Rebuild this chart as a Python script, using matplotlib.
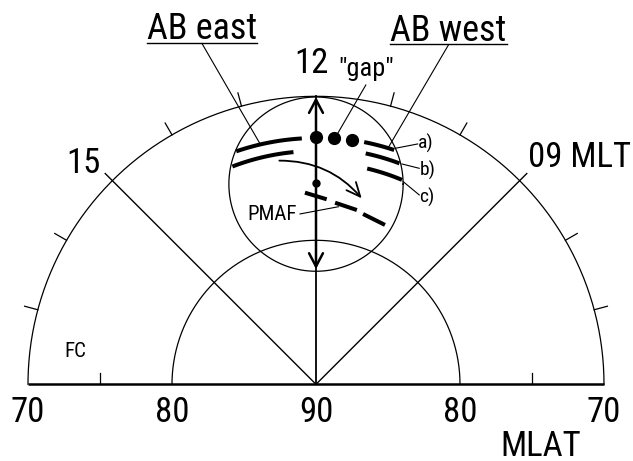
import numpy as np
import matplotlib
matplotlib.use('Agg')
import matplotlib.pyplot as plt
from matplotlib import font_manager as fm
from matplotlib.patches import FancyArrowPatch

# narrow sans if there is one, the original uses a condensed face
names = {f.name for f in fm.fontManager.ttflist}
FONT = dict(family='DejaVu Sans', stretch='condensed')
for cand in ['Roboto Condensed', 'Archivo Narrow', 'PT Sans Narrow',
             'Liberation Sans Narrow', 'Asap Condensed']:
    if cand in names:
        FONT = dict(family=cand)
        break

# --- data (MLT in hours, MLAT in degrees) ---
rings = [70, 80]                       # circles of constant MLAT
base_labels = ['70', '80', '90', '80', '70']
base_mlat = [70, 80, 90, 80, 70]
base_side = [-1, -1, 0, 1, 1]
minor_mlat = 75                        # small ticks on the base line
hour_lines = [15, 9]                   # the two drawn meridians
hour_ticks = [7, 8, 10, 11, 13, 14, 16, 17]

fov_mlat = 76.1                        # centre of the small circle
fov_radius = 6.05

gap_mlt = [12.0, 11.72, 11.44]
gap_mlat = [72.85, 72.85, 72.85]

east_arcs = [(12.22, 13.26, 72.9), (12.37, 13.40, 73.8)]
west_arcs = [(11.25, 10.77, 72.85), (11.19, 10.62, 73.6), (11.11, 10.48, 74.6)]

pmaf_start = [(12.22, 76.67), (11.60, 77.32), (10.97, 77.73)]
pmaf_end = [(11.78, 77.13), (11.12, 77.57), (10.44, 77.94)]

flow_start = (12.62, 74.26)
flow_end = (11.08, 76.70)
cusp_dot = (12.0, 76.0)
arrow_mlat = (82.0, 70.05)


def xy(mlt, mlat):
    r = 90 - np.asarray(mlat, float)
    phi = np.deg2rad((np.asarray(mlt, float) - 12) * 15)
    return -r * np.sin(phi), r * np.cos(phi)


S = 14.4       # pixels per degree
CX, CY = 316, 384.3
fig = plt.figure(figsize=(6.33, 4.61), dpi=100)
ax = fig.add_axes([0, 0, 1, 1])
ax.set_xlim(-CX / S, (633 - CX) / S)
ax.set_ylim(-(461 - CY) / S, CY / S)
ax.axis('off')

t = np.linspace(0, np.pi, 300)
for m in rings:
    r = 90 - m
    ax.plot(r * np.cos(t), r * np.sin(t), color='k', lw=0.9)

# base line with the 75 deg ticks
ax.plot([-20, 20], [0, 0], color='k', lw=1.8, solid_capstyle='butt')
for s in (-1, 1):
    ax.plot([s * (90 - minor_mlat)] * 2, [0, 0.76], color='k', lw=0.9)

for h in hour_ticks:
    ax.plot(*xy([h, h], [70, 69.05]), color='k', lw=0.9)
for h in hour_lines:
    ax.plot(*xy([h, h], [90, 69.3]), color='k', lw=1.0)
ax.plot(*xy([12, 12], [90, 70]), color='k', lw=1.3)

# field of view circle
tt = np.linspace(0, 2 * np.pi, 300)
ax.plot(fov_radius * np.cos(tt), 90 - fov_mlat + fov_radius * np.sin(tt), color='k', lw=0.9)

ax.add_patch(FancyArrowPatch(xy(12, arrow_mlat[0]), xy(12, arrow_mlat[1]),
                             arrowstyle='<->,head_length=0.95,head_width=0.5',
                             mutation_scale=10, lw=1.8, color='k',
                             shrinkA=0, shrinkB=0))

for m0, m1, lat in east_arcs + west_arcs:
    mm = np.linspace(m0, m1, 40)
    ax.plot(*xy(mm, lat), color='k', lw=2.9, solid_capstyle='butt')

for (m0, l0), (m1, l1) in zip(pmaf_start, pmaf_end):
    ax.plot(*xy([m0, m1], [l0, l1]), color='k', lw=2.9, solid_capstyle='butt')

ax.add_patch(FancyArrowPatch(xy(*flow_start), xy(*flow_end),
                             connectionstyle='arc3,rad=-0.23',
                             arrowstyle='->,head_length=1.0,head_width=0.45',
                             mutation_scale=10, lw=1.3, color='k',
                             shrinkA=0, shrinkB=0))

ax.plot(*xy(gap_mlt, gap_mlat), 'o', color='k', ms=8.5, zorder=5)
ax.plot(*xy(*cusp_dot), 'o', color='k', ms=5, zorder=5)

# --- text ---
for lab, m, s in zip(base_labels, base_mlat, base_side):
    ax.text(s * (90 - m), -2.63, lab, ha='center', va='baseline', fontsize=25, **FONT)
ax.text(15.63, -4.98, 'MLAT', ha='center', va='baseline', fontsize=25, **FONT)
ax.text(-16.13, 14.67, '15', ha='center', va='baseline', fontsize=25, **FONT)
ax.text(18.33, 15.11, '09 MLT', ha='center', va='baseline', fontsize=25, **FONT)
ax.text(-0.28, 21.62, '12', ha='center', va='baseline', fontsize=25, **FONT)
ax.text(3.50, 21.43, '"gap"', ha='center', va='baseline', fontsize=19, **FONT)
ax.text(-16.74, 1.90, 'FC', ha='center', va='baseline', fontsize=15, **FONT)
ax.text(-3.02, 11.41, 'PMAF', ha='center', va='baseline', fontsize=15, **FONT)

lw_thin = 0.8
ax.plot([-1.11, 1.55], [11.83, 12.33], color='k', lw=lw_thin)
ax.plot(*xy([11.37, 11.67], [68.93, 72.51]), color='k', lw=lw_thin)

small_labels = ['a)', 'b)', 'c)']
small_from = [(5.51, 16.39), (5.97, 15.30), (6.06, 14.07)]
small_to = [(7.06, 16.69), (7.17, 15.00), (7.17, 13.15)]
small_y = [16.74, 14.88, 12.99]
for lab, p0, p1, yy in zip(small_labels, small_from, small_to, small_y):
    ax.plot([p0[0], p1[0]], [p0[1], p1[1]], color='k', lw=lw_thin)
    ax.text(p1[0] + 0.02, yy, lab, ha='left', va='center', fontsize=14, **FONT)

# underlined headings with leaders to the arcs
head_labels = ['AB east', 'AB west']
head_x = [-7.92, 9.20]
head_base = [23.96, 23.86]
head_target = [xy(12.87, 72.9), xy(10.87, 72.85)]
heads = [ax.text(x, y, lab, ha='center', va='baseline', fontsize=26, **FONT)
         for lab, x, y in zip(head_labels, head_x, head_base)]
fig.canvas.draw()
inv = ax.transData.inverted()
for txt, x, y, tgt in zip(heads, head_x, head_base, head_target):
    bb = txt.get_window_extent()
    (x0, _), (x1, _) = inv.transform([(bb.x0, 0), (bb.x1, 0)])
    uy = y - 0.24
    ax.plot([x0, x1], [uy, uy], color='k', lw=1.0)
    ax.plot([x, tgt[0]], [uy - 0.05, tgt[1]], color='k', lw=lw_thin)

fig.savefig('out.png', dpi=100, facecolor='white')
